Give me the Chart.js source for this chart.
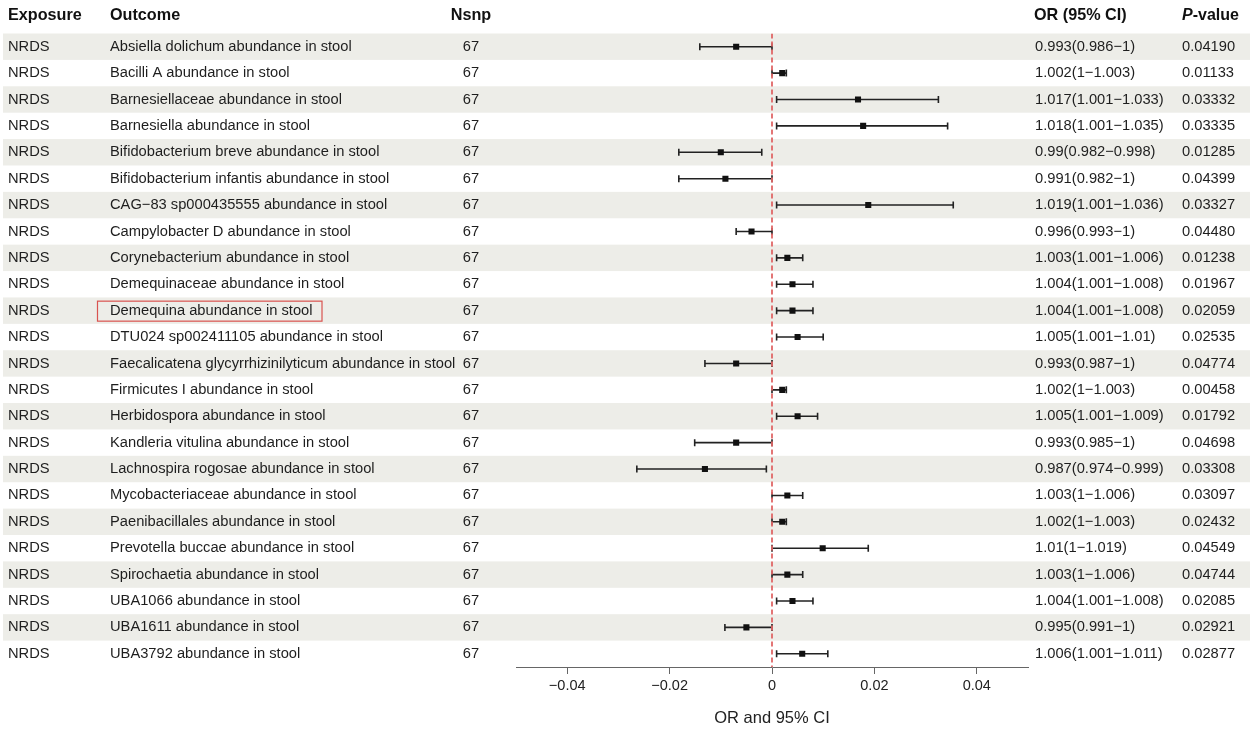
<!DOCTYPE html>
<html>
<head>
<meta charset="utf-8">
<script src="https://cdn.jsdelivr.net/npm/chart.js@4.4.1/dist/chart.umd.min.js"></script>
<style>
  html, body { margin: 0; padding: 0; background: #ffffff; }
  #wrap { width: 1250px; height: 737px; position: relative; }
</style>
</head>
<body>
<div id="wrap"><canvas id="forest" width="1250" height="737"></canvas></div>
<script>
// Table data
const outcomes = [
    'Absiella dolichum abundance in stool',
    'Bacilli A abundance in stool',
    'Barnesiellaceae abundance in stool',
    'Barnesiella abundance in stool',
    'Bifidobacterium breve abundance in stool',
    'Bifidobacterium infantis abundance in stool',
    'CAG\u221283 sp000435555 abundance in stool',
    'Campylobacter D abundance in stool',
    'Corynebacterium abundance in stool',
    'Demequinaceae abundance in stool',
    'Demequina abundance in stool',
    'DTU024 sp002411105 abundance in stool',
    'Faecalicatena glycyrrhizinilyticum abundance in stool',
    'Firmicutes I abundance in stool',
    'Herbidospora abundance in stool',
    'Kandleria vitulina abundance in stool',
    'Lachnospira rogosae abundance in stool',
    'Mycobacteriaceae abundance in stool',
    'Paenibacillales abundance in stool',
    'Prevotella buccae abundance in stool',
    'Spirochaetia abundance in stool',
    'UBA1066 abundance in stool',
    'UBA1611 abundance in stool',
    'UBA3792 abundance in stool'
];
const exposure = 'NRDS';
const nsnp = [67, 67, 67, 67, 67, 67, 67, 67, 67, 67, 67, 67, 67, 67, 67, 67, 67, 67, 67, 67, 67, 67, 67, 67];
const orText = [
    '0.993(0.986\u22121)', '1.002(1\u22121.003)', '1.017(1.001\u22121.033)', '1.018(1.001\u22121.035)',
    '0.99(0.982\u22120.998)', '0.991(0.982\u22121)', '1.019(1.001\u22121.036)', '0.996(0.993\u22121)',
    '1.003(1.001\u22121.006)', '1.004(1.001\u22121.008)', '1.004(1.001\u22121.008)', '1.005(1.001\u22121.01)',
    '0.993(0.987\u22121)', '1.002(1\u22121.003)', '1.005(1.001\u22121.009)', '0.993(0.985\u22121)',
    '0.987(0.974\u22120.999)', '1.003(1\u22121.006)', '1.002(1\u22121.003)', '1.01(1\u22121.019)',
    '1.003(1\u22121.006)', '1.004(1.001\u22121.008)', '0.995(0.991\u22121)', '1.006(1.001\u22121.011)'
];
const pValues = [
    '0.04190', '0.01133', '0.03332', '0.03335', '0.01285', '0.04399', '0.03327', '0.04480',
    '0.01238', '0.01967', '0.02059', '0.02535', '0.04774', '0.00458', '0.01792', '0.04698',
    '0.03308', '0.03097', '0.02432', '0.04549', '0.04744', '0.02085', '0.02921', '0.02877'
];

// Effect estimates (log OR scale)
const beta = [
    -0.0070, 0.0020, 0.0168, 0.0178, -0.0100, -0.0091, 0.0188, -0.0040,
    0.0030, 0.0040, 0.0040, 0.0050, -0.0070, 0.0020, 0.0050, -0.0070,
    -0.0131, 0.0030, 0.0020, 0.0099, 0.0030, 0.0040, -0.0050, 0.0059
];
const ciLow = [
    -0.0141, 0.0000, 0.0009, 0.0009, -0.0182, -0.0182, 0.0009, -0.0070,
    0.0009, 0.0009, 0.0009, 0.0009, -0.0131, 0.0000, 0.0009, -0.0151,
    -0.0264, 0.0000, 0.0000, 0.0000, 0.0000, 0.0009, -0.0092, 0.0009
];
const ciHigh = [
    0.0000, 0.0028, 0.0325, 0.0343, -0.0020, 0.0000, 0.0354, 0.0000,
    0.0060, 0.0080, 0.0080, 0.0100, 0.0000, 0.0028, 0.0089, 0.0000,
    -0.0011, 0.0060, 0.0028, 0.0188, 0.0060, 0.0080, 0.0000, 0.0109
];
const xTicks = [-0.04, -0.02, 0, 0.02, 0.04];
const highlightRow = 10;

const FONT = '"Liberation Sans", Arial, Helvetica, sans-serif';

// Stripes, table columns and error bars
const tablePlugin = {
    id: 'forestTable',
    beforeDatasetsDraw(chart) {
        const ctx = chart.ctx;
        const y = chart.scales.y;
        const x = chart.scales.x;
        ctx.save();

        // Alternating row shading
        ctx.fillStyle = '#edede8';
        outcomes.forEach((o, i) => {
            if (i % 2 === 0) {
                const top = y.getPixelForValue(i - 0.5);
                const bot = y.getPixelForValue(i + 0.5);
                ctx.fillRect(3, top, chart.width - 3, bot - top);
            }
        });

        // Headers
        const headerY = 16;
        ctx.fillStyle = '#111';
        ctx.textBaseline = 'middle';
        ctx.font = 'bold 16.2px ' + FONT;
        ctx.textAlign = 'left';
        ctx.fillText('Exposure', 8, headerY);
        ctx.fillText('Outcome', 110, headerY);
        ctx.textAlign = 'center';
        ctx.fillText('Nsnp', 471, headerY);
        ctx.textAlign = 'left';
        ctx.fillText('OR (95% CI)', 1034, headerY);
        ctx.font = 'italic bold 16px ' + FONT;
        ctx.fillText('P', 1182, headerY);
        const pw = ctx.measureText('P').width;
        ctx.font = 'bold 16px ' + FONT;
        ctx.fillText('-value', 1182 + pw, headerY);

        // Body rows
        ctx.font = '14.7px ' + FONT;
        ctx.fillStyle = '#1e1e1e';
        outcomes.forEach((o, i) => {
            const cy = y.getPixelForValue(i);
            ctx.textAlign = 'left';
            ctx.fillText(exposure, 8, cy);
            ctx.fillText(o, 110, cy);
            ctx.textAlign = 'center';
            ctx.fillText(String(nsnp[i]), 471, cy);
            ctx.textAlign = 'left';
            ctx.fillText(orText[i], 1035, cy);
            ctx.fillText(pValues[i], 1182, cy);
        });

        // Red box around highlighted outcome
        const hy = y.getPixelForValue(highlightRow);
        const hw = ctx.measureText(outcomes[highlightRow]).width;
        ctx.strokeStyle = '#d9534f';
        ctx.lineWidth = 1.2;
        ctx.strokeRect(97.5, hy - 9.5, hw + 22, 20);

        // Error bars with caps
        ctx.strokeStyle = '#222';
        ctx.lineWidth = 1.6;
        outcomes.forEach((o, i) => {
            const cy = y.getPixelForValue(i);
            const x0 = x.getPixelForValue(ciLow[i]);
            const x1 = x.getPixelForValue(ciHigh[i]);
            ctx.beginPath();
            ctx.moveTo(x0, cy);
            ctx.lineTo(x1, cy);
            ctx.moveTo(x0, cy - 3.5);
            ctx.lineTo(x0, cy + 3.5);
            ctx.moveTo(x1, cy - 3.5);
            ctx.lineTo(x1, cy + 3.5);
            ctx.stroke();
        });
        ctx.restore();
    }
};

new Chart(document.getElementById('forest'), {
    type: 'scatter',
    data: {
        datasets: [
            {
                label: 'Null line',
                type: 'line',
                data: [{ x: 0, y: -0.5 }, { x: 0, y: outcomes.length - 0.5 }],
                borderColor: '#e06666',
                borderWidth: 1.8,
                borderDash: [5, 3],
                pointRadius: 0,
                order: 2
            },
            {
                label: 'Estimate',
                data: beta.map((b, i) => ({ x: b, y: i })),
                pointStyle: 'rect',
                radius: 4.3,
                backgroundColor: '#111',
                borderColor: '#111',
                borderWidth: 0,
                order: 1
            }
        ]
    },
    options: {
        responsive: false,
        animation: false,
        devicePixelRatio: 1,
        layout: { padding: { left: 516, right: 222, top: 33.5, bottom: 0 } },
        plugins: {
            legend: { display: false },
            tooltip: { enabled: false }
        },
        scales: {
            x: {
                type: 'linear',
                min: -0.05,
                max: 0.05,
                afterFit: (scale) => { scale.height = 70; },
                afterBuildTicks: (scale) => { scale.ticks = xTicks.map(v => ({ value: v })); },
                grid: { drawOnChartArea: false, drawTicks: true, tickLength: 7, color: '#666' },
                border: { display: true, color: '#666', width: 1 },
                ticks: {
                    color: '#222',
                    padding: 3,
                    font: { family: FONT, size: 14.5 },
                    callback: (v) => v === 0 ? '0' : String(v).replace('-', '\u2212')
                },
                title: {
                    display: true,
                    text: 'OR and 95% CI',
                    color: '#222',
                    font: { family: FONT, size: 16.5 },
                    padding: { top: 10, bottom: 9 }
                }
            },
            y: {
                type: 'linear',
                display: false,
                reverse: true,
                min: -0.5,
                max: outcomes.length - 0.5
            }
        }
    },
    plugins: [tablePlugin]
});
</script>
</body>
</html>
